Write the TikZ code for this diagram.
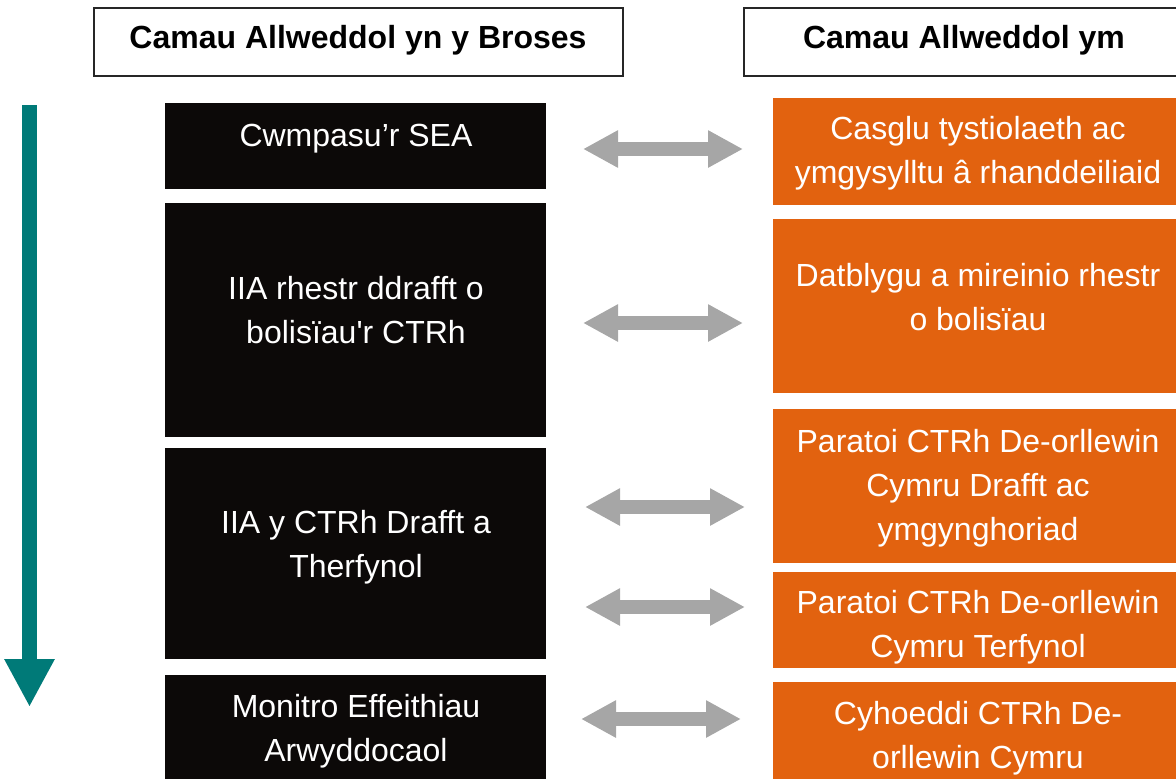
\documentclass[tikz,border=0pt]{standalone}
\usepackage{fontspec}
\setmainfont{Liberation Sans}
\usetikzlibrary{arrows.meta, positioning}

\definecolor{stageblack}{HTML}{0C0908}
\definecolor{actionorange}{HTML}{E2620F}
\definecolor{linkgray}{HTML}{A6A6A6}
\definecolor{timeteal}{HTML}{007A78}

\begin{document}
\begin{tikzpicture}[
        x=0.5pt, y=-0.5pt,
        % Cajas de cabecera
        headbox/.style={
                rectangle,
                draw=black!85,
                line width=0.75pt,
                fill=white,
                inner sep=0pt,
                outer sep=0pt,
                anchor=north west,
                minimum height=34pt
            },
        headtext/.style={
                inner sep=0pt,
                font=\bfseries\fontsize{16}{22}\selectfont
            },
        % Etapas (negro)
        stagebox/.style={
                rectangle,
                fill=stageblack,
                inner sep=0pt,
                outer sep=0pt,
                anchor=north west,
                minimum width=190.5pt
            },
        % Acciones (naranja)
        actionbox/.style={
                rectangle,
                fill=actionorange,
                inner sep=0pt,
                outer sep=0pt,
                anchor=north west,
                minimum width=208.5pt
            },
        boxtext/.style={
                inner sep=0pt,
                align=center,
                text=white,
                font=\fontsize{16}{22}\selectfont
            },
        linkarrow/.style={
                draw=linkgray,
                line width=7pt,
                {Triangle[length=17.5pt,width=17.5pt]}-{Triangle[length=17.5pt,width=17.5pt]}
            },
        timearrow/.style={
                draw=timeteal,
                line width=7.5pt,
                -{Triangle[length=24pt,width=23.5pt]}
            }
    ]

    \useasboundingbox (0,0) rectangle (1176,778);
    \clip (0,0) rectangle (1176,778);

    % CABECERAS
    \node[headbox, minimum width=264.5pt] (headleft) at (94,8) {};
    \node[headbox, minimum width=220pt] (headright) at (744,8) {};
    \node[headtext] (headlefttxt) at (358,40) {Camau Allweddol yn y Broses};
    \node[headtext] (headrighttxt) at (964,40) {Camau Allweddol ym};

    % ETAPAS
    \node[stagebox, minimum height=43pt] (stage1) at (165,103) {};
    \node[stagebox, minimum height=117pt] (stage2) at (165,203) {};
    \node[stagebox, minimum height=105.5pt] (stage3) at (165,448) {};
    \node[stagebox, minimum height=57.5pt] (stage4) at (165,675) {};

    \node[boxtext] (stage1txt) at (356,139) {Cwmpasu’r SEA};
    \node[boxtext] (stage2txt) at (356,310.5) {IIA rhestr ddrafft o\\bolisïau\textquotesingle r CTRh};
    \node[boxtext] (stage3txt) at (356,547.5) {IIA y CTRh Drafft a\\Therfynol};
    \node[boxtext] (stage4txt) at (356,731) {Monitro Effeithiau\\Arwyddocaol};

    % ACCIONES
    \node[actionbox, minimum height=53.5pt] (action1) at (773,98) {};
    \node[actionbox, minimum height=87pt] (action2) at (773,219) {};
    \node[actionbox, minimum height=77pt] (action3) at (773,409) {};
    \node[actionbox, minimum height=48pt] (action4) at (773,572) {};
    \node[actionbox, minimum height=54pt] (action5) at (773,682) {};

    \node[boxtext] (action1txt) at (978,153) {Casglu tystiolaeth ac\\ymgysylltu â rhanddeiliaid};
    \node[boxtext] (action2txt) at (978,297.5) {Datblygu a mireinio rhestr\\o bolisïau};
    \node[boxtext] (action3txt) at (978,488) {Paratoi CTRh De-orllewin\\Cymru Drafft ac\\ymgynghoriad};
    \node[boxtext] (action4txt) at (978,627.5) {Paratoi CTRh De-orllewin\\Cymru Terfynol};
    \node[boxtext] (action5txt) at (978,738.5) {Cyhoeddi CTRh De-\\orllewin Cymru};

    % FLECHAS DE ENLACE
    \coordinate (link1l) at (583,149);
    \coordinate (link1r) at (743,149);
    \coordinate (link2l) at (583,323);
    \coordinate (link2r) at (743,323);
    \coordinate (link3l) at (585,507);
    \coordinate (link3r) at (745,507);
    \coordinate (link4l) at (585,607);
    \coordinate (link4r) at (745,607);
    \coordinate (link5l) at (581,719);
    \coordinate (link5r) at (741,719);
    \foreach \i in {1,...,5} {
        \draw[linkarrow] (link\i l) -- (link\i r);
    }

    % LINEA DE TIEMPO
    \coordinate (timetop) at (29.5,105);
    \coordinate (timebottom) at (29.5,707);
    \draw[timearrow] (timetop) -- (timebottom);

\end{tikzpicture}
\end{document}
